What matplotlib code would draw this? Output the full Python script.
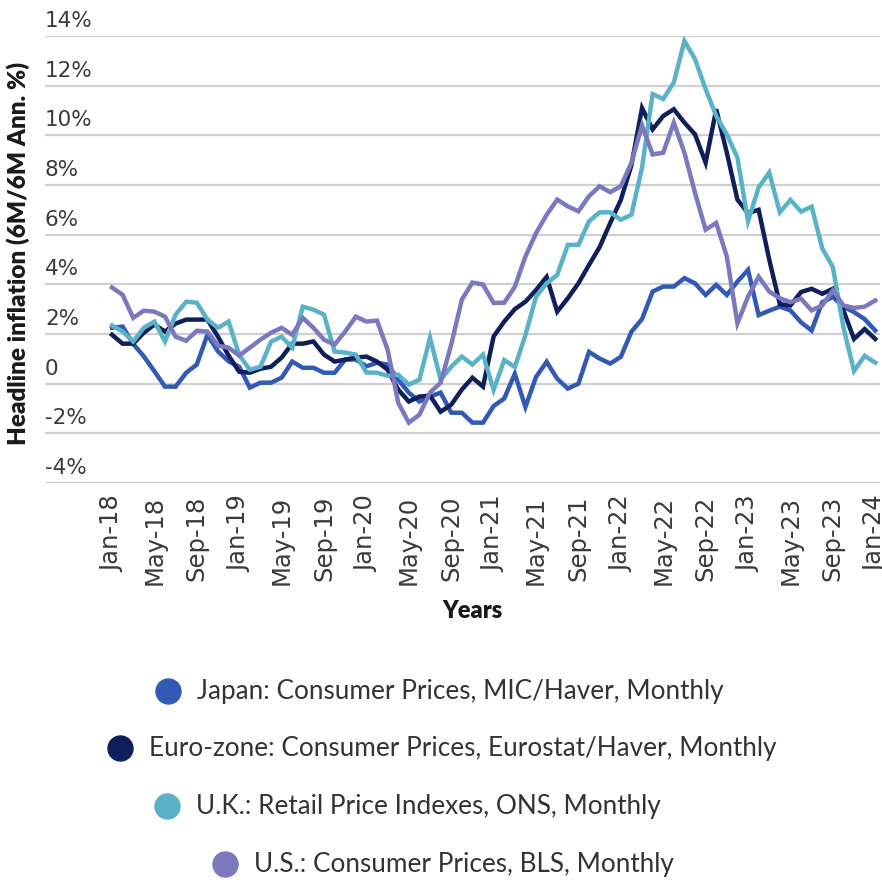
# -*- coding: utf-8 -*-
"""
Headline inflation (6M/6M annualised), Japan / Euro-zone / U.K. / U.S., Jan-18 to Jan-24
"""
import matplotlib
matplotlib.use("Agg")
import matplotlib.pyplot as plt
from matplotlib.lines import Line2D
from matplotlib.transforms import blended_transform_factory, offset_copy

# ============================  Data  ======================================
# monthly values, Jan-18 ... Jan-24 (73 points)
japan = [2.25, 2.3, 1.6, 1.1, 0.5, -0.12, -0.12, 0.44, 0.77, 1.97,
         1.3, 0.9, 0.68, -0.16, 0.04, 0.04, 0.24, 0.89, 0.64, 0.64,
         0.44, 0.44, 0.97, 0.97, 0.7, 0.84, 0.77, 0.16, -0.36, -0.72,
         -0.52, -0.36, -1.17, -1.17, -1.57, -1.57, -0.9, -0.6, 0.4, -0.94,
         0.27, 0.88, 0.2, -0.2, 0.0, 1.28, 1.01, 0.81, 1.08, 2.09,
         2.6, 3.71, 3.91, 3.91, 4.25, 4.04, 3.57, 3.98, 3.57, 4.11,
         4.58, 2.76, 2.94, 3.1, 2.95, 2.47, 2.14, 3.28, 3.49, 3.1,
         2.88, 2.6, 2.14]
euro = [1.97, 1.61, 1.61, 2.05, 2.38, 2.1, 2.42, 2.58, 2.58, 2.58,
        1.89, 1.13, 0.48, 0.44, 0.6, 0.68, 1.05, 1.61, 1.61, 1.7,
        1.17, 0.89, 0.97, 1.05, 1.09, 0.89, 0.56, -0.24, -0.72, -0.52,
        -0.48, -1.13, -0.85, -0.24, 0.24, -0.12, 1.9, 2.5, 3.0, 3.3,
        3.77, 4.3, 2.9, 3.44, 4.04, 4.78, 5.5, 6.47, 7.4, 8.8,
        11.1, 10.24, 10.78, 11.05, 10.51, 10.04, 8.9, 11.05, 9.3, 7.41,
        6.87, 7.0, 5.0, 3.2, 3.15, 3.69, 3.82, 3.62, 3.82, 2.95,
        1.8, 2.2, 1.8]
uk = [2.34, 2.1, 1.7, 2.25, 2.5, 1.7, 2.78, 3.3, 3.26, 2.58,
      2.25, 2.5, 1.15, 0.56, 0.68, 1.69, 1.89, 1.45, 3.1, 2.98,
      2.78, 1.29, 1.25, 1.17, 0.45, 0.44, 0.32, 0.36, -0.04, 0.16,
      1.85, 0.16, 0.68, 1.09, 0.77, 1.17, -0.25, 0.95, 0.67, 1.95,
      3.5, 4.04, 4.38, 5.59, 5.59, 6.54, 6.9, 6.9, 6.6, 6.8,
      8.7, 11.66, 11.46, 12.13, 13.8, 13.07, 11.86, 10.78, 10.04, 9.1,
      6.54, 7.9, 8.5, 6.9, 7.4, 6.93, 7.13, 5.45, 4.7, 2.27,
      0.51, 1.12, 0.85]
us = [3.87, 3.58, 2.65, 2.94, 2.9, 2.7, 1.89, 1.73, 2.13, 2.1,
      1.53, 1.45, 1.13, 1.45, 1.77, 2.05, 2.25, 1.97, 2.65, 2.25,
      1.77, 1.57, 2.1, 2.7, 2.5, 2.54, 1.37, -0.77, -1.57, -1.25,
      -0.36, 0.04, 1.57, 3.38, 4.07, 3.99, 3.25, 3.26, 3.9, 5.12,
      6.06, 6.8, 7.41, 7.14, 6.94, 7.55, 7.95, 7.71, 7.95, 8.9,
      10.4, 9.23, 9.3, 10.51, 9.3, 7.68, 6.2, 6.47, 5.12, 2.43,
      3.5, 4.31, 3.71, 3.44, 3.28, 3.42, 2.95, 3.15, 3.76, 3.15,
      3.05, 3.1, 3.35]

names = ["Japan: Consumer Prices, MIC/Haver, Monthly",
         "Euro-zone: Consumer Prices, Eurostat/Haver, Monthly",
         "U.K.: Retail Price Indexes, ONS, Monthly",
         "U.S.: Consumer Prices, BLS, Monthly"]
colors = ["#3159b5", "#0f1f5a", "#5ab2c8", "#7b78bf"]

xtick_pos = list(range(0, 73, 4))
xtick_lab = ["Jan-18", "May-18", "Sep-18", "Jan-19", "May-19", "Sep-19",
             "Jan-20", "May-20", "Sep-20", "Jan-21", "May-21", "Sep-21",
             "Jan-22", "May-22", "Sep-22", "Jan-23", "May-23", "Sep-23",
             "Jan-24"]
ytick_pos = [-4, -2, 0, 2, 4, 6, 8, 10, 12, 14]
ytick_lab = ["-4%", "-2%", "0", "2%", "4%", "6%", "8%", "10%", "12%", "14%"]

# ============================  Plot  ======================================
W, H = 882, 880
fig = plt.figure(figsize=(W / 100, H / 100), dpi=100)
ax = fig.add_axes([45 / W, 1 - 483 / H, 835 / W, 447 / H])

months = list(range(len(japan)))
for vals, col in zip([japan, euro, uk, us], colors):
    ax.plot(months, vals, color=col, lw=3.2, solid_joinstyle="miter")

ax.set_xlim(-6.32, 72.45)
ax.set_ylim(-4, 14)
ax.set_yticks(ytick_pos)
ax.set_yticklabels([])
ax.grid(axis="y", color="#d0d0d0", lw=1.6)
ax.set_axisbelow(True)
for s in ax.spines.values():
    s.set_visible(False)
ax.tick_params(length=0)

# y labels sit above their gridlines, left aligned
trans = offset_copy(blended_transform_factory(ax.transAxes, ax.transData),
                    fig=fig, x=0, y=9, units="dots")
for v, lab in zip(ytick_pos, ytick_lab):
    ax.text(0, v, lab, transform=trans, ha="left", va="baseline",
            fontsize=15.5, color="#3a3a3a")

ax.set_xticks(xtick_pos)
ax.set_xticklabels(xtick_lab, rotation=90, fontsize=17.5, color="#3a3a3a")
ax.tick_params(axis="x", pad=9)

fig.text(472 / W, 1 - 611 / H, "Years", ha="center", va="center",
         fontsize=17, fontweight="heavy", family="Lato", color="#1a1a1a")
fig.text(18 / W, 1 - 253 / H, "Headline inflation (6M/6M Ann. %)",
         rotation=90, ha="center", va="center", fontsize=17.5,
         fontweight="heavy", family="Lato", color="#1a1a1a")

# legend: one centred row per series
leg_x = [168, 120, 167, 225]
leg_y = [691, 748, 806, 864]
for name, col, lx, ly in zip(names, colors, leg_x, leg_y):
    fig.add_artist(Line2D([lx / W], [1 - ly / H], marker="o", markersize=18,
                          color=col, linestyle="none",
                          transform=fig.transFigure))
    fig.text((lx + 29) / W, 1 - ly / H, name, ha="left", va="center",
             fontsize=18.8, family="Lato", color="#333333")

plt.savefig("out.png", dpi=100)
